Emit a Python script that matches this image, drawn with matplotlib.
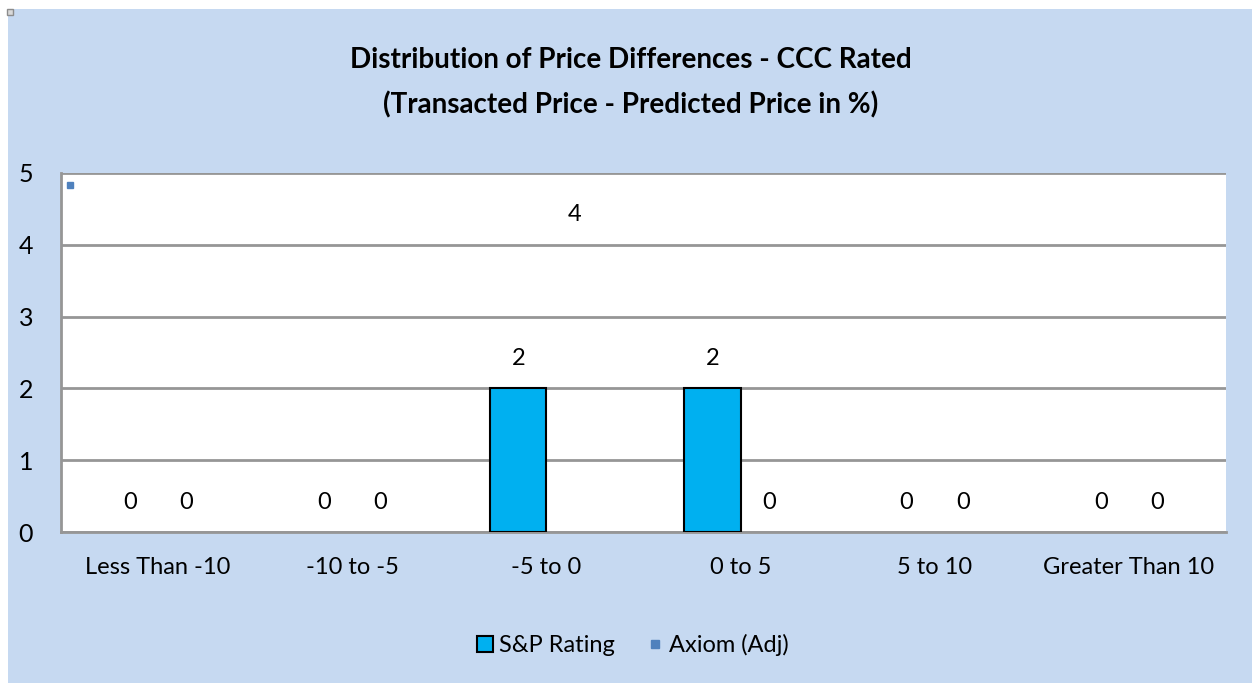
import matplotlib
matplotlib.use("Agg")
import matplotlib.pyplot as plt
from matplotlib.patches import Rectangle
from matplotlib.lines import Line2D
import numpy as np

categories = ["Less Than -10", "-10 to -5", "-5 to 0", "0 to 5", "5 to 10", "Greater Than 10"]
sp_rating = [0, 0, 2, 2, 0, 0]
axiom_adj = [0, 0, 4, 0, 0, 0]

plt.rcParams["font.family"] = ["Lato", "DejaVu Sans"]

W, H = 1252, 686
fig = plt.figure(figsize=(W / 100, H / 100), dpi=100)
fig.patch.set_facecolor("white")

# light blue chart area
fig.add_artist(Rectangle((8 / W, 3 / H), 1 - 8 / W, (683 - 9) / H,
                         transform=fig.transFigure, facecolor="#C6D9F1", edgecolor="none", zorder=0))
fig.add_artist(Line2D([10 / W], [1 - 12 / H], transform=fig.transFigure, marker="s",
                      markersize=5, markerfacecolor="#D9D9D9", markeredgecolor="#8C8C8C"))

ax = fig.add_axes([61 / W, (H - 532) / H, (1226 - 61) / W, (532 - 173) / H])
ax.set_facecolor("white")

x = np.arange(len(categories))
width = 0.29
edges = ["black" if v else "none" for v in sp_rating]
b1 = ax.bar(x - width / 2, sp_rating, width, color="#00B0F0", edgecolor=edges, linewidth=1.5, zorder=3)
b2 = ax.bar(x + width / 2, axiom_adj, width, color="none", edgecolor="none", zorder=3)
ax.bar_label(b1, padding=14, fontsize=17)
ax.bar_label(b2, padding=14, fontsize=17)

ax.set_xlim(-0.5, len(categories) - 0.5)
ax.set_ylim(0, 5)
ax.set_yticks(range(0, 6))
ax.set_xticks(x)
ax.set_xticklabels(categories, fontsize=17)
ax.tick_params(axis="y", labelsize=18, length=0, pad=20)
ax.tick_params(axis="x", length=0, pad=18)
ax.grid(axis="y", color="#969696", linewidth=2, zorder=1)
ax.spines["right"].set_visible(False)
ax.spines["top"].set_visible(False)
ax.spines["left"].set_color("#969696")
ax.spines["left"].set_linewidth(2)
ax.spines["bottom"].set_color("#969696")
ax.spines["bottom"].set_linewidth(2)

# stray marker in plot corner
ax.plot([0.008], [0.967], transform=ax.transAxes, marker="s", markersize=5,
        markerfacecolor="#4F81BD", markeredgecolor="#4F81BD", clip_on=False)

fig.text(631 / W, 1 - 60 / H, "Distribution of Price Differences - CCC Rated",
         ha="center", va="center", fontsize=20, fontweight="bold")
fig.text(631 / W, 1 - 105 / H, "(Transacted Price - Predicted Price in %)",
         ha="center", va="center", fontsize=20, fontweight="bold")

handles = [
    Line2D([], [], linestyle="none", marker="s", markersize=12, markerfacecolor="#00B0F0",
           markeredgecolor="black", markeredgewidth=1.5),
    Line2D([], [], linestyle="none", marker="s", markersize=6, markerfacecolor="#4F81BD",
           markeredgecolor="#4F81BD"),
]
fig.legend(handles, ["S&P Rating", "Axiom (Adj)"], loc="center", bbox_to_anchor=(631 / W, 1 - 645 / H),
           ncol=2, frameon=False, fontsize=17, handletextpad=0.1, columnspacing=1.2, handlelength=1.0)

fig.savefig("out.png", dpi=100)
